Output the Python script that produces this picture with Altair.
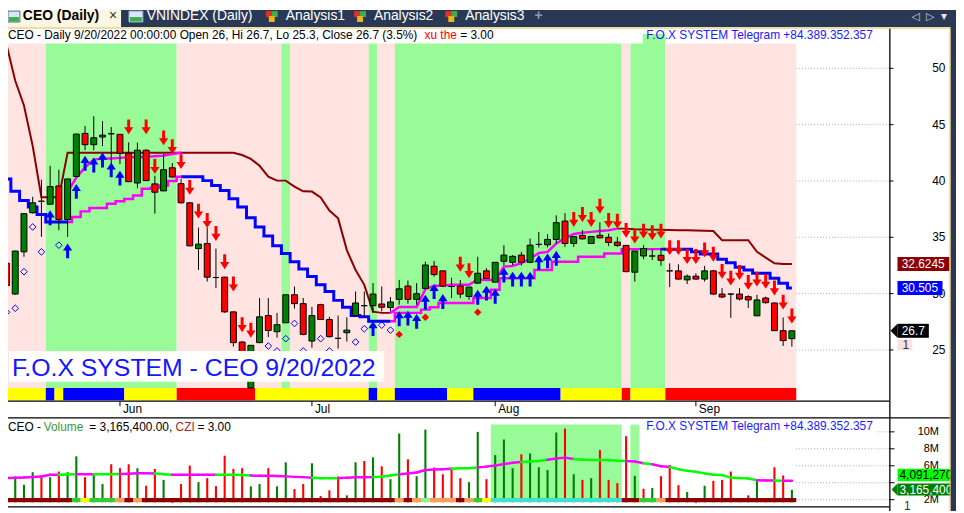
import altair as alt
import pandas as pd

# ===================== values =====================
opens = [32.69, 29.96, 33.71, 37.18, 38.2, 37.94, 39.56, 36.57, 40.4, 44.22,
         43.22, 43.9, 44.19, 44.14, 42.46, 39.82, 42.73, 39.74, 39.12, 41.17,
         39.76, 38.06, 34.0, 34.45, 31.43, 31.46, 28.38, 25.7, 21.63, 25.65,
         28.05, 26.62, 27.41, 29.9, 29.11, 25.79, 29.02, 27.7, 26.03, 26.53,
         28.05, 28.93, 28.93, 29.08, 28.76, 29.49, 30.67, 29.49, 30.46, 32.43,
         32.02, 30.63, 30.67, 29.75, 30.93, 32.02, 31.02, 32.87, 32.78, 33.42,
         32.78, 34.37, 34.33, 34.81, 36.44, 34.45, 35.16, 34.45, 35.18, 35.0,
         34.57, 34.28, 31.9, 33.34, 33.34, 33.4, 32.02, 32.02, 31.22, 31.55,
         31.29, 32.02, 29.96, 29.96, 29.96, 29.73, 28.03, 29.61, 29.17, 26.71,
         26.0]
highs = [33.36, 33.8, 37.1, 38.6, 40.11, 41.35, 41.0, 40.2, 44.2, 44.87,
         45.75, 45.3, 44.78, 44.14, 43.43, 43.4, 42.8, 40.47, 42.38, 41.58,
         40.18, 38.1, 35.86, 35.86, 34.0, 31.5, 28.4, 25.8, 25.41, 29.61,
         29.61, 28.29, 29.9, 30.63, 29.61, 28.82, 29.1, 27.94, 28.05, 27.9,
         30.19, 30.19, 30.93, 30.63, 29.7, 31.22, 31.16, 30.93, 32.83, 32.9,
         32.05, 31.4, 31.22, 30.6, 33.27, 32.25, 32.8, 34.3, 33.42, 33.71,
         34.89, 35.48, 35.27, 36.95, 37.15, 35.1, 35.63, 35.1, 36.33, 35.33,
         35.04, 34.3, 33.8, 34.3, 33.93, 34.01, 32.69, 32.6, 31.7, 31.8,
         32.46, 32.1, 30.49, 30.0, 30.49, 29.85, 29.9, 29.73, 29.2, 27.88,
         26.7]
lows = [29.67, 29.9, 33.27, 37.1, 35.04, 37.9, 35.63, 35.04, 40.4, 42.73,
        42.73, 43.1, 41.5, 41.5, 39.9, 39.35, 40.0, 37.1, 39.1, 40.3,
        38.0, 34.2, 32.1, 31.07, 30.49, 28.3, 25.3, 22.6, 21.6, 25.6,
        26.14, 26.09, 27.4, 28.67, 26.3, 25.2, 27.7, 26.1, 25.12, 25.74,
        28.0, 27.94, 28.29, 28.43, 28.43, 29.02, 29.11, 29.02, 30.4, 31.51,
        30.6, 29.61, 29.6, 29.46, 30.9, 31.3, 31.0, 32.5, 32.54, 32.5,
        32.7, 34.1, 34.1, 34.45, 34.15, 34.15, 34.8, 34.4, 34.9, 34.22,
        34.15, 31.9, 31.07, 33.05, 32.98, 32.48, 30.58, 31.25, 30.85, 31.25,
        31.07, 29.9, 29.6, 27.85, 29.4, 28.73, 28.0, 29.1, 26.7, 25.35,
        25.3]
closes = [30.72, 33.78, 37.10, 38.06, 38.2, 39.5, 36.57, 40.18, 44.16, 43.22,
          43.84, 44.07, 44.19, 42.46, 39.94, 42.73, 40.03, 39.0, 41.0, 40.35,
          38.06, 34.24, 34.39, 31.46, 31.43, 28.38, 25.65, 23.2, 25.41, 27.94,
          26.73, 27.24, 29.9, 29.11, 26.38, 28.05, 27.7, 26.18, 26.03, 26.76,
          29.17, 28.93, 29.96, 28.79, 29.26, 30.43, 29.49, 29.99, 32.54, 31.69,
          30.67, 30.63, 29.96, 30.58, 31.81, 31.34, 32.78, 33.42, 33.31, 32.78,
          34.3, 34.37, 34.81, 36.3, 34.45, 35.07, 34.86, 35.07, 34.95, 34.54,
          34.28, 31.95, 33.78, 34.01, 33.34, 32.96, 32.02, 31.29, 31.55, 31.29,
          32.02, 29.96, 29.7, 29.96, 29.52, 29.44, 29.44, 29.2, 26.71, 25.83,
          26.7]
# volume in millions of shares, and bar colour (g = up, r = down)
volumes = [6.68, 4.74, 3.75, 5.24, 4.62, 4.65, 5.32, 5.24, 7.11, 4.65,
           4.92, 3.84, 6.18, 5.71, 6.18, 5.71, 3.64, 5.63, 4.34, 1.6,
           3.84, 6.02, 4.07, 4.54, 3.6, 7.19, 5.63, 5.71, 3.57, 3.84,
           5.71, 3.57, 6.41, 3.25, 3.84, 6.29, 2.43, 3.1, 4.74, 2.51,
           6.41, 6.56, 6.99, 5.94, 4.42, 9.8, 6.76, 4.77, 10.27, 5.79,
           5.0, 5.79, 4.54, 4.07, 10.0, 4.42, 7.26, 9.1, 5.71, 7.35,
           7.46, 5.82, 5.51, 9.92, 10.39, 5.0, 4.34, 4.54, 7.85, 4.34,
           3.95, 9.49, 4.81, 3.29, 3.37, 4.77, 6.1, 3.71, 2.9, 1.6,
           3.64, 4.22, 4.34, 5.32, 1.9, 2.51, 4.34, 2.1, 5.82, 4.85,
           3.1654]
vol_dir = ("rgggrgrggr" "ggrrrgrrgr" "rrgrrrrrgg" "rggrrgrrrg" "grgrggrggr"
           "rrrggrgggr" "ggggrgrgrr" "rrgrgrrrgr" "grrrrrgrrr" "g")
vol_ma = [4.54, 4.58, 4.62, 4.68, 4.74, 4.93, 4.93, 4.98, 5.0, 5.0,
          5.0, 5.0, 5.0, 5.02, 5.05, 5.12, 5.12, 5.1, 5.0, 4.93,
          4.93, 4.93, 4.93, 4.93, 4.93, 4.95, 4.93, 4.9, 4.85, 4.81,
          4.81, 4.78, 4.75, 4.69, 4.66, 4.6, 4.54, 4.54, 4.52, 4.6,
          4.65, 4.65, 4.66, 4.7, 4.85, 5.0, 5.1, 5.2, 5.5, 5.55,
          5.6, 5.65, 5.7, 5.71, 5.79, 5.9, 6.02, 6.2, 6.35, 6.45,
          6.5, 6.56, 6.7, 6.85, 6.96, 6.8, 6.7, 6.68, 6.68, 6.68,
          6.6, 6.56, 6.5, 6.3, 6.18, 5.95, 5.85, 5.6, 5.4, 5.3,
          5.1, 4.95, 4.9, 4.6, 4.55, 4.5, 4.3, 4.27, 4.25, 4.22,
          4.22]
vol_ma_col = ("mmmmmmggmmgggmmmmggmmmmmggggmmmmmmmgggmmmmgggmmmmmmggg"
              "mmmmmgggmmmggggggmmgmmggggggggggmmgmg")
N_ = None
upper_stop = ([52.1, 48.9, 46.7, 43.1, 38.56, 38.56, 38.56] + [42.5] * 20
              + [42.3, 41.96, 41.35, 40.38, 40.03, 40.03, 39.5, 39.08, 39.06, 38.53,
                 37.38, 36.68, 33.86, 32.1, 30.78, 28.4, 28.29, 28.29]
              + [N_] * 25
              + [35.77, 35.77, 35.72, 35.7, 35.68, 35.66, 35.64, 35.62, 35.62, 35.6,
                 35.58, 35.56, 34.74, 34.74, 34.74, 34.74, 33.71, 33.2, 32.69, 32.62, 32.62])
upper_trail = ([N_] * 7
               + [39.0, 40.3, 41.2, 41.9, 42.0, 42.0, 42.05, 42.1, 42.1, 42.15, 42.2, 42.25, 42.4, 42.5]
               + [N_] * 23
               + [28.29, 28.82, 28.82, 28.82, 30.4, 30.7, 30.7, 30.78, 30.78, 30.78, 31.25, 31.2,
                  31.2, 32.4, 32.45, 32.7, 33.1, 33.6, 33.7, 34.45, 34.9, 35.3, 35.4, 35.48,
                  35.55, 35.62, 35.77]
               + [N_] * 20)
lower_stop = ([40.18, 39.08, 38.27, 37.68, 37.03, 36.36, 36.36, 36.36]
              + [N_] * 12
              + [40.38, 40.38, 40.38, 40.03, 39.59, 39.15, 38.42, 37.68, 36.74, 35.92, 35.12,
                 34.24, 33.57, 32.83, 32.19, 31.51, 30.78, 30.19, 29.4, 28.79, 28.05, 27.94,
                 27.55, 27.55, 27.55]
              + [N_] * 30
              + [33.95, 33.93, 33.93, 33.93, 33.71, 33.51, 33.51, 33.05, 32.75, 32.34, 32.1,
                 31.81, 31.81, 31.37, 30.93, 30.505])
lower_trail = ([N_] * 7
               + [36.36, 36.8, 37.3, 37.6, 37.6, 37.97, 38.2, 38.4, 38.7, 39.3, 39.4, 39.6, 40.0, 40.38]
               + [N_] * 23
               + [27.55, 28.29, 28.29, 28.29, 28.58, 28.79, 29.17, 29.17, 29.17, 29.17, 29.61,
                  29.61, 30.34, 31.37, 31.37, 31.37, 31.37, 32.1, 32.1, 32.83, 32.83, 32.83,
                  33.27, 33.27, 33.27, 33.57, 33.57, 33.95, 33.95, 33.95, 33.95, 33.95]
               + [N_] * 15)
# regime per bar: p = pink (down), g = green (up)
zone = "ppppp" + "g" * 15 + "p" * 12 + "g" + "p" * 9 + "g" + "pp" + "g" * 26 + "p" + "gggg" + "p" * 15
ribbon = ("yyyyy" + "b" + "y" + "b" * 7 + "y" * 6 + "r" * 9 + "y" * 13 + "b" + "yy"
          + "b" * 6 + "yyy" + "b" * 10 + "y" * 7 + "r" + "yyyy" + "r" * 15)
czi_strip = ("d" * 8 + "G" + "Y" + "GGG" + "O" + "d" + "O" + "d" * 29 + "O" + "d" + "O" + "L"
             + "OOO" + "d" + "O" + "G" + "Y" + "T" * 15 + "dd" + "GG" + "O" + "d" * 15)
vol_zone = "n" * 56 + "g" * 15 + "n" + "g" + "n" * 18
buy_bars = [5, 7, 8, 9, 10, 11, 12, 13, 42, 45, 46, 47, 48, 49, 50, 54, 55, 56, 57, 58, 59, 60, 61, 62, 63]
buy_at = [37.39, 34.45, 39.74, 42.23, 42.08, 42.52, 41.64, 40.91, 27.55, 28.43, 28.49, 28.2, 29.9,
          30.85, 29.96, 30.34, 30.7, 30.43, 32.31, 31.95, 31.95, 31.95, 33.42, 33.57, 33.8]
sell_bars = [14, 16, 17, 18, 19, 20, 21, 22, 23, 24, 25, 26, 27, 28, 52, 53] + list(range(65, 91))
sell_at = [44.14, 44.14, 40.62, 43.17, 42.38, 41.06, 38.77, 36.66, 35.83, 34.68, 32.17, 30.19, 26.58, 26.09,
           31.95, 31.37,
           35.92, 36.36, 35.92, 37.1, 35.83, 35.77, 34.95, 34.45, 34.89, 34.74, 34.89, 33.42, 33.42,
           32.63, 32.63, 33.22, 32.83, 31.31, 30.72, 31.22, 30.34, 30.63, 30.43, 29.84, 28.58, 27.35]
watch_bars = [0, 1, 2, 3, 4, 6, 30, 31, 32, 33, 34, 36, 37, 40, 41, 43, 44]
watch_at = [28.35, 28.7, 31.95, 35.92, 33.71, 34.3, 25.35, 24.91, 26.0, 27.35, 24.91, 26.0, 24.91,
            25.7, 26.88, 27.2, 26.76]
dot_bars = [45, 48, 54]
dot_at = [26.38, 27.9, 28.35]
month_bars = [13, 35, 56, 79]
month_names = ["Jun", "Jul", "Aug", "Sep"]
price_ticks = [25, 30, 35, 40, 45, 50]
vol_ticks = [2, 4, 6, 8, 10]
vol_tick_labels = ["2M", "", "6M", "8M", "10M"]   # the 4M label is hidden under the badges
last_vals = [32.6245, 30.505, 26.7]
last_text = ["32.6245", "30.505", "26.7"]

# ===================== geometry =====================
W, H = 956, 505
XS = alt.Scale(domain=[0.1705, 108.807], nice=False, zero=False)
PS = alt.Scale(domain=[10.713, 55.167], nice=False, zero=False)
VS = alt.Scale(domain=[0.6784, 59.743], nice=False, zero=False)
NAVY = "#293955"
FONT = "Liberation Sans"
one = pd.DataFrame({"k": [0]})


def X(f):
    return alt.X(f, type="quantitative", scale=XS, axis=None)


def PY(f):
    return alt.Y(f, type="quantitative", scale=PS, axis=None)


def VY(f):
    return alt.Y(f, type="quantitative", scale=VS, axis=None)


def rect(x, x2, y, y2, fill, **kw):
    return alt.Chart(one).mark_rect(fill=fill, **kw).encode(
        x=alt.value(x), x2=alt.value(x2), y=alt.value(y), y2=alt.value(y2))


def text(x, y, s, size=12, color="black", align="left", weight="normal",
         font=FONT, baseline="alphabetic"):
    return alt.Chart(one).mark_text(text=s, fontSize=size, color=color, align=align,
                                    fontWeight=weight, font=font, baseline=baseline).encode(
        x=alt.value(x), y=alt.value(y))


def seg(x, x2, y, y2, color, width=1.0, dash=None):
    kw = dict(color=color, strokeWidth=width)
    if dash:
        kw["strokeDash"] = dash
    return alt.Chart(one).mark_rule(**kw).encode(
        x=alt.value(x), x2=alt.value(x2), y=alt.value(y), y2=alt.value(y2))


def runs(codes):
    out, start = [], 0
    for k in range(1, len(codes) + 1):
        if k == len(codes) or codes[k] != codes[start]:
            out.append((start, k - 1, codes[start]))
            start = k
    return out


def run_df(codes, cmap):
    r = [t for t in runs(codes) if t[2] in cmap]
    return pd.DataFrame({"a": [s - 0.5 for s, e, c in r], "b": [e + 0.5 for s, e, c in r],
                         "col": [cmap[c] for s, e, c in r]})


def line_df(vals):
    rows, sid, prev = [], 0, None
    for i, v in enumerate(vals):
        if v is None:
            if prev is not None:
                sid += 1
            prev = None
            continue
        rows.append({"i": i, "v": v, "s": sid})
        prev = v
    return pd.DataFrame(rows)


n = len(opens)
idx = list(range(n))
cd = pd.DataFrame({"i": idx, "o": opens, "h": highs, "l": lows, "c": closes})
cd["top"] = cd[["o", "c"]].max(axis=1)
cd["bot"] = cd[["o", "c"]].min(axis=1)
cd["col"] = ["#000000" if abs(c - o) < 0.02 else ("#008000" if c > o else "#ff0000")
             for o, c in zip(opens, closes)]
cd["xl"] = cd["i"] - 0.34
cd["xr"] = cd["i"] + 0.34

vd = pd.DataFrame({"i": idx, "v": volumes,
                   "col": ["#008000" if d == "g" else "#ff0000" for d in vol_dir]})
vd["xl"] = vd["i"] - 0.12
vd["xr"] = vd["i"] + 0.12
vd["base"] = 1.696

mad = pd.DataFrame({"i": idx[:-1], "i2": idx[1:], "m": vol_ma[:-1], "m2": vol_ma[1:],
                    "col": ["#00ff00" if c == "g" else "#ff00ff" for c in vol_ma_col[:n - 1]]})

UP = "M0,0L0.62,0.95L0.2,0.95L0.2,2L-0.2,2L-0.2,0.95L-0.62,0.95Z"
DN = "M0,0L0.62,-0.95L0.2,-0.95L0.2,-2L-0.2,-2L-0.2,-0.95L-0.62,-0.95Z"
TIP = "M-1,0L0,-1L0,1Z"

layers = []

# ---------- window chrome (tab bar) ----------
layers.append(rect(0, W, 0, 18, NAVY))
layers.append(rect(0, 114, 0, 18.5, "#fdf6e2"))
layers.append(rect(0, W, 17, 19, "#efdcab"))

# ---------- price panel background ----------
grid_p = pd.DataFrame({"v": price_ticks, "a": 90.5, "b": 101.19})
layers.append(alt.Chart(grid_p).mark_rule(color="#a8a8a8", strokeDash=[1, 2]).encode(
    x=X("a"), x2="b", y=PY("v")))
layers.append(alt.Chart(run_df(zone, {"p": "#ffe4e1", "g": "#98fb98"})).mark_rect().encode(
    x=X("a"), x2="b", y=alt.value(24), y2=alt.value(381), fill=alt.Fill("col:N", scale=None)))
layers.append(alt.Chart(run_df(ribbon, {"y": "#ffff00", "b": "#0000ff", "r": "#ff0000"})).mark_rect().encode(
    x=X("a"), x2="b", y=alt.value(381), y2=alt.value(393.5), fill=alt.Fill("col:N", scale=None)))
# title boxes
layers.append(rect(0, 640, 19, 33.7, "white"))
layers.append(rect(663, 876, 19, 33.7, "white"))

# ---------- indicator lines ----------
layers.append(alt.Chart(line_df(upper_stop)).mark_line(color="#8b0000", strokeWidth=2).encode(
    x=X("i"), y=PY("v"), detail="s:N"))
layers.append(alt.Chart(line_df(upper_trail)).mark_line(color="#ff00ff", strokeWidth=2.5).encode(
    x=X("i"), y=PY("v"), detail="s:N"))
layers.append(alt.Chart(line_df(lower_trail)).mark_line(color="#ff00ff", strokeWidth=2.5,
                                                          interpolate="step").encode(
    x=X("i"), y=PY("v"), detail="s:N"))
layers.append(alt.Chart(line_df(lower_stop)).mark_line(color="#0000ff", strokeWidth=3,
                                                         interpolate="step").encode(
    x=X("i"), y=PY("v"), detail="s:N"))

# ---------- candles ----------
layers.append(alt.Chart(cd).mark_rule(color="black", strokeWidth=1).encode(
    x=X("i"), y=PY("l"), y2="h"))
layers.append(alt.Chart(cd).mark_rect(stroke="black", strokeWidth=1).encode(
    x=X("xl"), x2="xr", y=PY("top"), y2="bot", fill=alt.Fill("col:N", scale=None)))

# ---------- signals ----------
layers.append(alt.Chart(pd.DataFrame({"i": buy_bars, "v": buy_at})).mark_point(
    shape=UP, filled=True, size=225, color="#0000ff", strokeWidth=0, opacity=1).encode(
    x=X("i"), y=PY("v")))
layers.append(alt.Chart(pd.DataFrame({"i": sell_bars, "v": sell_at})).mark_point(
    shape=DN, filled=True, size=225, color="#ff0000", strokeWidth=0, opacity=1).encode(
    x=X("i"), y=PY("v")))
layers.append(alt.Chart(pd.DataFrame({"i": watch_bars, "v": watch_at})).mark_point(
    shape="diamond", filled=False, size=45, color="#0000ff", strokeWidth=1, opacity=1).encode(
    x=X("i"), y=PY("v")))
layers.append(alt.Chart(pd.DataFrame({"i": dot_bars, "v": dot_at})).mark_point(
    shape="diamond", filled=True, size=55, color="#ff0000", strokeWidth=0, opacity=1).encode(
    x=X("i"), y=PY("v")))

# ---------- big watermark title ----------
layers.append(rect(1, 379, 343.7, 374.7, "white"))
layers.append(text(4, 368.7, "F.O.X SYSTEM - CEO 9/20/2022", size=25, color="#1515ff"))

# ---------- price header ----------
layers.append(text(0, 29.5, "CEO - Daily 9/20/2022 00:00:00 Open 26, Hi 26.7, Lo 25.3, Close 26.7 (3.5%)"))
layers.append(text(420, 29.5, "xu the", color="#ff0000"))
layers.append(text(456, 29.5, "= 3.00"))
layers.append(text(643.7, 29.5, "F.O.X SYSTEM Telegram +84.389.352.357", color="#1a1aff"))

# ---------- volume panel ----------
layers.append(alt.Chart(run_df(vol_zone, {"g": "#98fb98"})).mark_rect().encode(
    x=X("a"), x2="b", y=alt.value(418), y2=alt.value(492), fill=alt.Fill("col:N", scale=None)))
grid_v = pd.DataFrame({"v": vol_ticks, "a": 90.5, "b": 101.19})
layers.append(alt.Chart(grid_v).mark_rule(color="#a8a8a8", strokeDash=[1, 2]).encode(
    x=X("a"), x2="b", y=VY("v")))
layers.append(alt.Chart(vd).mark_rect().encode(
    x=X("xl"), x2="xr", y=VY("v"), y2="base", fill=alt.Fill("col:N", scale=None)))
layers.append(alt.Chart(run_df(czi_strip, {"d": "#8b0000", "G": "#32cd32", "Y": "#ffff00",
                                           "O": "#f5a05a", "L": "#90ee90", "T": "#40e0d0"})).mark_rect().encode(
    x=X("a"), x2="b", y=alt.value(492), y2=alt.value(496.3), fill=alt.Fill("col:N", scale=None)))
layers.append(alt.Chart(mad).mark_rule(strokeWidth=2.5, strokeCap="round").encode(
    x=X("i"), x2="i2", y=VY("m"), y2="m2", color=alt.Color("col:N", scale=None)))
layers.append(text(0, 424, "CEO -"))
layers.append(text(36, 424, "Volume", color="#3a9a3a"))
layers.append(text(82, 424, "= 3,165,400.00,"))
layers.append(text(169, 424, "CZI", color="#a0282a"))
layers.append(text(191, 424, "= 3.00"))
layers.append(rect(643, 876, 416, 430, "white"))
layers.append(text(643.7, 423.7, "F.O.X SYSTEM Telegram +84.389.352.357", color="#1a1aff"))

# ---------- panel frames ----------
layers.append(seg(0, 889, 394.3, 394.3, "black", 1.3))
layers.append(seg(0, W, 411.3, 411.3, "black", 1.3))
layers.append(seg(0, 889, 501, 501, "black", 1.3))
layers.append(seg(889.3, 889.3, 18.7, H, "black", 1.3))

# ---------- date axis ----------
md = pd.DataFrame({"i": month_bars, "name": month_names})
layers.append(alt.Chart(md).mark_rule(color="black").encode(
    x=X("i"), y=alt.value(394.5), y2=alt.value(399.5)))
layers.append(alt.Chart(md).mark_text(align="left", dx=3, fontSize=12, font=FONT,
                                      baseline="alphabetic", color="black").encode(
    x=X("i"), y=alt.value(406), text="name:N"))

# ---------- price axis ----------
pt = pd.DataFrame({"v": price_ticks, "t": [str(v) for v in price_ticks]})
layers.append(alt.Chart(pt).mark_rule(color="black").encode(
    x=alt.value(889), x2=alt.value(893), y=PY("v")))
layers.append(alt.Chart(pt).mark_text(align="right", baseline="middle", fontSize=12, font=FONT,
                                      color="black").encode(
    x=alt.value(945.3), y=PY("v"), text="t:N"))
bd = pd.DataFrame({"v": last_vals, "t": last_text, "col": ["#8b0000", "#0000ff", "#000000"]})
bd["y1"] = bd["v"] + 0.62
bd["y2"] = bd["v"] - 0.62
bd["x2"] = [897 + 4 + 6.9 * len(t) for t in last_text]
for _, r in bd.iterrows():
    sub = pd.DataFrame([r])
    layers.append(alt.Chart(sub).mark_rect(fill=r["col"]).encode(
        x=alt.value(897), x2=alt.value(float(r["x2"])), y=PY("y1"), y2="y2"))
    layers.append(alt.Chart(sub).mark_text(align="left", baseline="middle", fontSize=12, font=FONT,
                                           color="white").encode(
        x=alt.value(901.3), y=PY("v"), text="t:N"))
layers.append(alt.Chart(bd.iloc[[2]]).mark_point(shape=TIP, filled=True, size=196, color="black",
                                                 strokeWidth=0, opacity=1).encode(
    x=alt.value(897), y=PY("v")))
layers.append(rect(897, 912, 332, 343, "#ffe0e0"))
layers.append(text(902, 337.8, "1", color="#333333", baseline="middle"))

# ---------- volume axis ----------
vt = pd.DataFrame({"v": vol_ticks, "t": vol_tick_labels})
layers.append(alt.Chart(vt).mark_rule(color="black").encode(
    x=alt.value(889), x2=alt.value(894), y=VY("v")))
layers.append(alt.Chart(vt).mark_text(align="right", baseline="middle", fontSize=11, font=FONT,
                                      color="black").encode(
    x=alt.value(938.7), y=VY("v"), text="t:N"))
layers.append(rect(897, W, 462.5, 475, "#00ff00"))
layers.append(text(899, 468.9, "4,091,270", baseline="middle"))
layers.append(rect(897, W, 477.5, 489.5, "#008000"))
layers.append(alt.Chart(one).mark_point(shape=TIP, filled=True, size=144, color="#008000",
                                        strokeWidth=0, opacity=1).encode(
    x=alt.value(897), y=alt.value(483.5)))
layers.append(text(899, 483.8, "3,165,400", color="white", baseline="middle"))
layers.append(text(903.5, 500, "1", color="#333333", baseline="middle"))

# ---------- tab captions ----------
layers.append(rect(0, 12, 1, 12, "#dbe7f6", stroke="#4a6fa5", strokeWidth=1))
layers.append(rect(1, 11, 7, 11.5, "#3cb043"))
layers.append(text(15, 10.3, "CEO (Daily)", size=14, weight="bold"))
layers.append(text(106, 10.3, "×", size=14, color="#333333", align="center"))
layers.append(rect(122, 136, 1, 12, "#dbe7f6", stroke="#8fb0dd", strokeWidth=1))
layers.append(rect(123, 135, 7, 11.5, "#3cb043"))
layers.append(text(140, 10.3, "VNINDEX (Daily)", size=14, color="white"))
for x0, lab in [(260, "Analysis1"), (349, "Analysis2"), (441, "Analysis3")]:
    layers.append(rect(x0, x0 + 6, 1, 7, "#e0302a"))
    layers.append(rect(x0 + 6, x0 + 12, 1, 7, "#3cb043"))
    layers.append(rect(x0 + 3, x0 + 9, 6, 12, "#f0b020"))
    layers.append(text(x0 + 20, 10.3, lab, size=14, color="white"))
layers.append(text(535, 9.5, "+", size=14, color="#8f9bb3", align="center", weight="bold"))
layers.append(text(915, 9.5, "◁", size=11, color="#c9d0dc", align="center", font="DejaVu Sans"))
layers.append(text(930, 9.5, "▷", size=11, color="#c9d0dc", align="center", font="DejaVu Sans"))
layers.append(text(944, 9.5, "▾", size=12, color="#e0e4ec", align="center", font="DejaVu Sans"))
layers.append(rect(950.5, W, 0, H, NAVY))
layers.append(seg(950, 950, 18, H, "#e6b85c", 1))

chart = alt.layer(*layers).resolve_scale(y="independent").properties(
    width=W, height=H, padding=0, background="white",
    autosize=alt.AutoSizeParams(type="none"),
).configure_view(stroke=None)

chart.save("out.html", embed_options={"renderer": "svg", "actions": False})
